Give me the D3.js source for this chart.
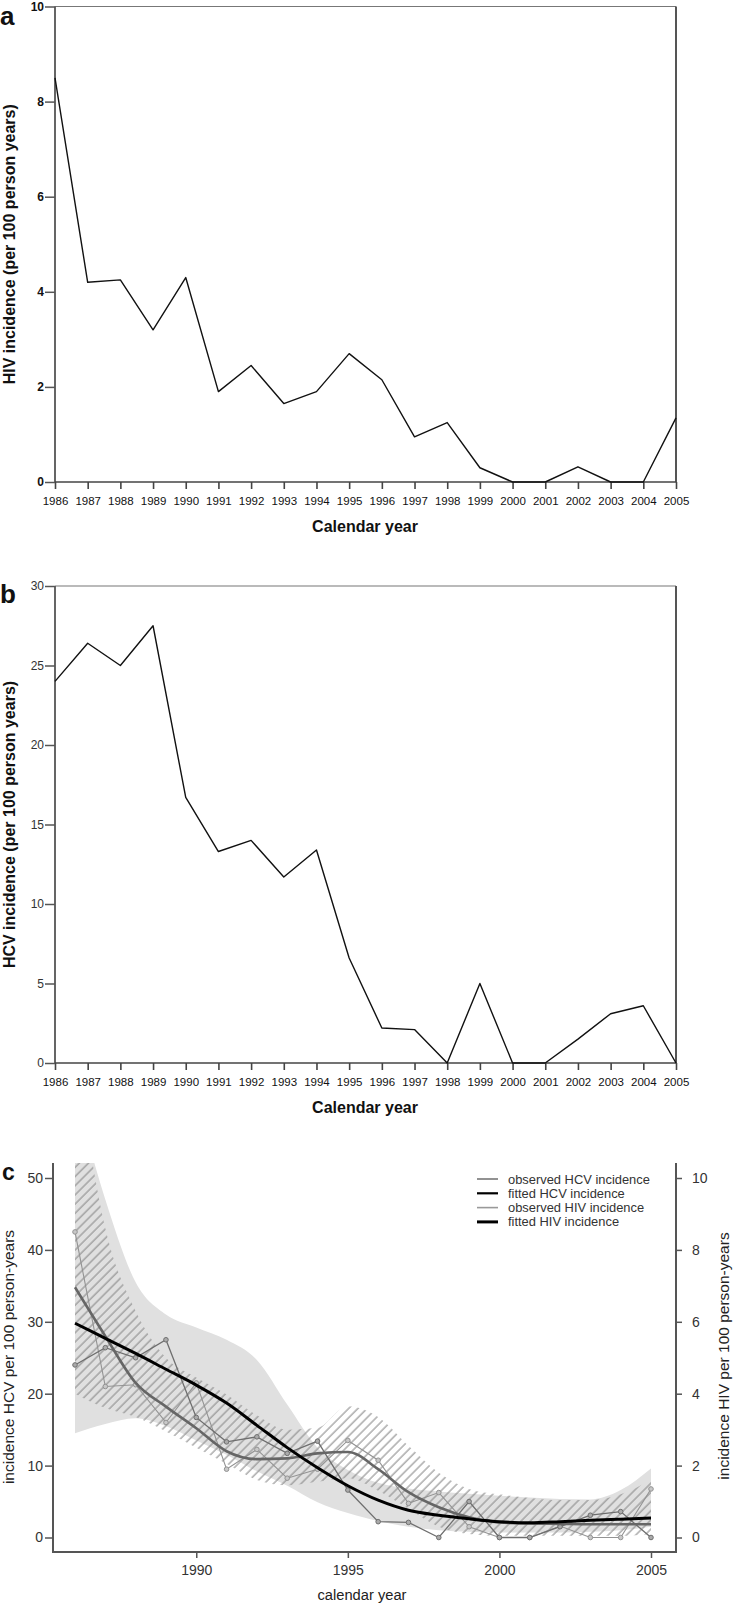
<!DOCTYPE html>
<html><head><meta charset="utf-8">
<script src="https://cdn.jsdelivr.net/npm/d3@7"></script>
<style>body{margin:0;background:#fff} svg{display:block} text{font-family:"Liberation Sans",Arial,sans-serif}</style>
</head><body><svg id="c" width="734" height="1604"></svg>
<script>
// ---------- data ----------
const years = [1986,1987,1988,1989,1990,1991,1992,1993,1994,1995,1996,1997,1998,1999,2000,2001,2002,2003,2004,2005];
const hivIncidence = [8.5,4.2,4.25,3.2,4.3,1.9,2.45,1.65,1.9,2.7,2.15,0.95,1.25,0.3,0,0,0.32,0,0,1.35];
const hcvIncidence = [24,26.4,25,27.5,16.7,13.3,14,11.7,13.4,6.6,2.2,2.1,0,5,0,0,1.5,3.1,3.6,0];
const hivTicks = [0,2,4,6,8,10];
const hcvTicks = [0,5,10,15,20,25,30];
const cHcvTicks = [0,10,20,30,40,50];
const cHivTicks = [0,2,4,6,8,10];
const cYearTicks = [1990,1995,2000,2005];
// fitted curves (panel c)
const fittedHcv     = [29.8,27.7,25.6,23.4,21.2,18.7,15.6,12.5,9.7,7.2,5.2,3.8,3.1,2.6,2.2,2.05,2.2,2.4,2.55,2.7];
const fittedHcvLow  = [14.5,15.8,16.6,15.5,13.5,11.5,9.2,7.2,4.9,3.4,2.3,1.5,1.0,0.8,0.7,0.7,0.7,0.8,1.0,1.5];
const fittedHcvHigh = [62,47,35.5,31,29.2,27.5,24.7,18.5,12.5,9.4,7.6,6.8,6.4,6.1,5.8,5.55,5.35,5.3,6.6,9.6];
const fittedHiv     = [6.96,5.6,4.3,3.64,3.04,2.4,2.18,2.2,2.34,2.38,1.9,1.26,0.84,0.56,0.42,0.39,0.38,0.37,0.37,0.37];
const fittedHivLow  = [4.0,3.6,3.35,2.95,2.5,2.05,1.6,1.45,1.55,1.65,1.3,0.8,0.3,0.1,0.05,0.05,0.05,0.05,0.05,0.1];
const fittedHivHigh = [13.5,8.6,6.3,5.0,4.45,3.98,3.4,3.0,3.05,3.65,3.35,2.55,1.8,1.35,1.2,1.1,1.04,1.04,1.2,1.6];
const legendLabels = ["observed HCV incidence","fitted HCV incidence","observed HIV incidence","fitted HIV incidence"];

const svg = d3.select("#c");
const defs = svg.append("defs");

function styleAxis(g, color, w, fs, weight, tcolor){
  g.select(".domain").remove();
  g.selectAll(".tick line").attr("stroke", color).attr("stroke-width", w);
  g.selectAll(".tick text").attr("font-size", fs).attr("font-weight", weight).attr("fill", tcolor)
    .attr("font-family", '"Liberation Sans",Arial,sans-serif');
}

// ---------- panels a & b ----------
function simplePanel(cfg){
  const x = d3.scaleLinear().domain([1986,2005]).range([55,676]);
  const y = d3.scaleLinear().domain(cfg.domain).range([cfg.bottom, cfg.top]);
  const g = svg.append("g");
  g.append("line").attr("x1",x(1986)).attr("x2",x(2005)).attr("y1",y(cfg.domain[1])).attr("y2",y(cfg.domain[1])).attr("stroke","#777").attr("stroke-width",1.2);
  g.append("line").attr("x1",x(2005)).attr("x2",x(2005)).attr("y1",y(cfg.domain[1])).attr("y2",y(0)).attr("stroke","#555").attr("stroke-width",2);
  g.append("line").attr("x1",x(1986)).attr("x2",x(1986)).attr("y1",y(cfg.domain[1])).attr("y2",y(0)).attr("stroke","#555").attr("stroke-width",1.8);
  g.append("line").attr("x1",x(1986)).attr("x2",x(2005)).attr("y1",y(0)).attr("y2",y(0)).attr("stroke","#444").attr("stroke-width",1.6);
  const ax = g.append("g").attr("transform",`translate(0,${y(0)})`)
    .call(d3.axisBottom(x).tickValues(years).tickFormat(d=>d).tickSize(7).tickPadding(8).tickSizeOuter(0));
  styleAxis(ax,"#444",1.6,11.5,"normal","#111");
  const ay = g.append("g").attr("transform",`translate(${x(1986)},0)`)
    .call(d3.axisLeft(y).tickValues(cfg.ticks).tickSize(10).tickPadding(1).tickSizeOuter(0));
  styleAxis(ay,"#555",1.5,12,cfg.tickWeight,cfg.tickColor);
  g.append("path").datum(cfg.values)
    .attr("d", d3.line().x((d,i)=>x(years[i])).y(d=>y(d)))
    .attr("fill","none").attr("stroke","#111").attr("stroke-width",1.4).attr("stroke-linejoin","round");
  g.append("text").attr("x",365).attr("y",cfg.bottom+50).attr("text-anchor","middle")
    .attr("font-size",16).attr("font-weight","bold").attr("fill","#111").text("Calendar year");
  g.append("text").attr("transform",`translate(15,${(cfg.top+cfg.bottom)/2}) rotate(-90)`).attr("text-anchor","middle")
    .attr("font-size",16).attr("font-weight","bold").attr("fill","#111").text(cfg.title);
  g.append("text").attr("x",0).attr("y",cfg.letterY).attr("font-size",26).attr("font-weight","bold").attr("fill","#111").text(cfg.letter);
}
simplePanel({domain:[0,10], top:6.5, bottom:482, ticks:hivTicks, values:hivIncidence,
  title:"HIV incidence (per 100 person years)", letter:"a", letterY:25, tickWeight:"bold", tickColor:"#111"});
simplePanel({domain:[0,30], top:586, bottom:1063, ticks:hcvTicks, values:hcvIncidence,
  title:"HCV incidence (per 100 person years)", letter:"b", letterY:603, tickWeight:"normal", tickColor:"#333"});

// ---------- panel c ----------
const xc = d3.scaleLinear().domain([1986,2005]).range([75,651]);
const yL = d3.scaleLinear().domain([0,50]).range([1537.5,1178]);
const yR = d3.scaleLinear().domain([0,10]).range([1537.5,1178]);
const cLeft = 53, cRight = 676, cTop = 1163, cBottom = 1552;

defs.append("clipPath").attr("id","clipc").append("rect")
  .attr("x",cLeft).attr("y",cTop).attr("width",cRight-cLeft).attr("height",cBottom-cTop);
const pat = defs.append("pattern").attr("id","hatch").attr("patternUnits","userSpaceOnUse")
  .attr("width",6.5).attr("height",6.5).attr("patternTransform","rotate(45)");
pat.append("line").attr("x1",1).attr("y1",0).attr("x2",1).attr("y2",6.5).attr("stroke","#8c8c8c").attr("stroke-width",1.1);

const gc = svg.append("g").attr("clip-path","url(#clipc)");
gc.append("path").datum(years.map((yr,i)=>[yr,fittedHcvLow[i],fittedHcvHigh[i]]))
  .attr("d", d3.area().x(d=>xc(d[0])).y0(d=>yL(d[1])).y1(d=>yL(d[2])).curve(d3.curveMonotoneX))
  .attr("fill","#e0e0e0");
gc.append("path").datum(years.map((yr,i)=>[yr,fittedHivLow[i],fittedHivHigh[i]]))
  .attr("d", d3.area().x(d=>xc(d[0])).y0(d=>yR(d[1])).y1(d=>yR(d[2])).curve(d3.curveMonotoneX))
  .attr("fill","url(#hatch)");
gc.append("path").datum(hivIncidence)
  .attr("d", d3.line().x((d,i)=>xc(years[i])).y(d=>yR(d)))
  .attr("fill","none").attr("stroke","#939393").attr("stroke-width",1.1);
gc.selectAll("circle.hiv").data(hivIncidence).join("circle").attr("class","hiv")
  .attr("cx",(d,i)=>xc(years[i])).attr("cy",d=>yR(d)).attr("r",2.3)
  .attr("fill","#c8c8c8").attr("stroke","#939393").attr("stroke-width",1);
gc.append("path").datum(hcvIncidence)
  .attr("d", d3.line().x((d,i)=>xc(years[i])).y(d=>yL(d)))
  .attr("fill","none").attr("stroke","#6e6e6e").attr("stroke-width",1.3);
gc.selectAll("circle.hcv").data(hcvIncidence).join("circle").attr("class","hcv")
  .attr("cx",(d,i)=>xc(years[i])).attr("cy",d=>yL(d)).attr("r",2.3)
  .attr("fill","#aaaaaa").attr("stroke","#6e6e6e").attr("stroke-width",1);
gc.append("path").datum(fittedHiv)
  .attr("d", d3.line().x((d,i)=>xc(years[i])).y(d=>yR(d)).curve(d3.curveMonotoneX))
  .attr("fill","none").attr("stroke","#666").attr("stroke-width",2.6);
gc.append("path").datum(fittedHcv)
  .attr("d", d3.line().x((d,i)=>xc(years[i])).y(d=>yL(d)).curve(d3.curveCatmullRom))
  .attr("fill","none").attr("stroke","#000").attr("stroke-width",3);

svg.append("path").attr("d",`M${cLeft},${cTop}V${cBottom}H${cRight}V${cTop}`)
  .attr("fill","none").attr("stroke","#555").attr("stroke-width",2);
const axc = svg.append("g").attr("transform",`translate(0,${cBottom})`)
  .call(d3.axisBottom(xc).tickValues(cYearTicks).tickFormat(d=>d).tickSize(6).tickPadding(7).tickSizeOuter(0));
styleAxis(axc,"#555",1.5,14,"normal","#333");
const ayl = svg.append("g").attr("transform",`translate(${cLeft},0)`)
  .call(d3.axisLeft(yL).tickValues(cHcvTicks).tickSize(8).tickPadding(2).tickSizeOuter(0));
styleAxis(ayl,"#555",1.5,14,"normal","#333");
const ayr = svg.append("g").attr("transform",`translate(${cRight},0)`)
  .call(d3.axisRight(yR).tickValues(cHivTicks).tickSize(6).tickPadding(10).tickSizeOuter(0));
styleAxis(ayr,"#555",1.5,14,"normal","#333");

svg.append("text").attr("x",362).attr("y",1600).attr("text-anchor","middle").attr("font-size",14.7).attr("fill","#222").text("calendar year");
svg.append("text").attr("transform","translate(14,1357) rotate(-90)").attr("text-anchor","middle")
  .attr("font-size",15.5).attr("fill","#222").text("incidence HCV per 100 person-years");
svg.append("text").attr("transform","translate(729,1356) rotate(-90)").attr("text-anchor","middle")
  .attr("font-size",15.5).attr("fill","#222").text("incidence HIV per 100 person-years");
svg.append("text").attr("x",2).attr("y",1180).attr("font-size",23).attr("font-weight","bold").attr("fill","#111").text("c");

const legStyles = [{c:"#777",w:1.6},{c:"#000",w:2.2},{c:"#999",w:1.6},{c:"#000",w:3}];
const leg = svg.append("g");
legendLabels.forEach((lab,i)=>{
  const yy = 1179 + i*14.3;
  leg.append("line").attr("x1",477).attr("x2",498).attr("y1",yy).attr("y2",yy)
    .attr("stroke",legStyles[i].c).attr("stroke-width",legStyles[i].w);
  leg.append("text").attr("x",508).attr("y",yy+4.5).attr("font-size",12.9).attr("fill","#333").text(lab);
});
</script></body></html>
